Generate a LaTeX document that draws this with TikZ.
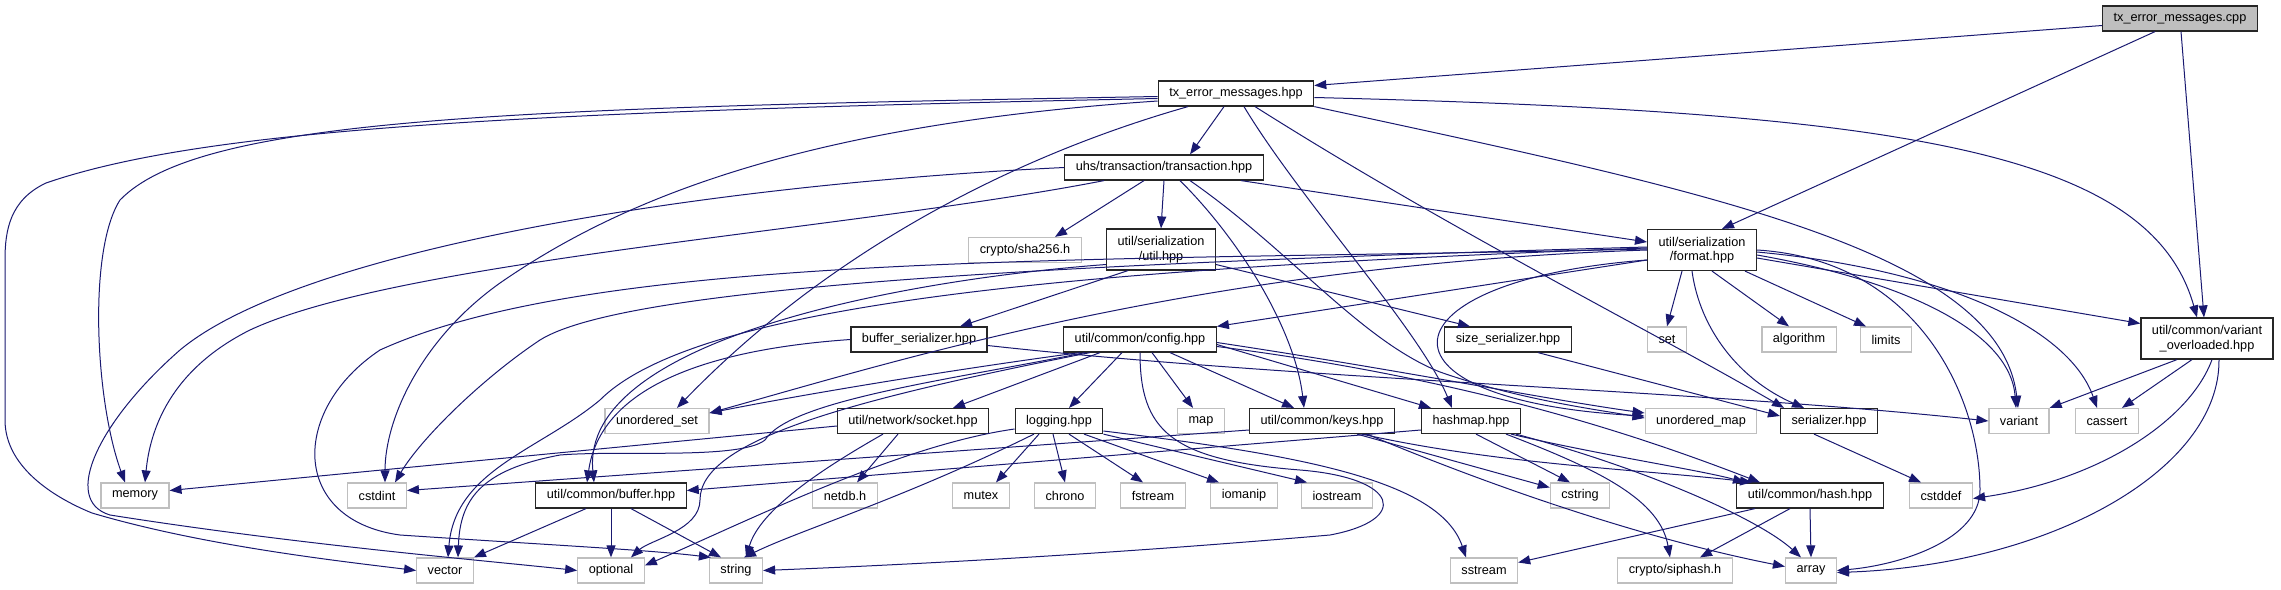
\documentclass[tikz,border=0pt]{standalone}
\usepackage{fontspec}
\usetikzlibrary{arrows.meta}
\newfontfamily\dotfont{Liberation Sans}
\definecolor{depblue}{HTML}{191970}
\definecolor{extgrey}{HTML}{BFBFBF}
\tikzset{
  file/.style={draw=black!85, line width=1.2pt, fill=white, text=black,
    font=\dotfont\fontsize{12.7}{14.5}\selectfont, inner xsep=11pt, inner ysep=2pt,
    minimum height=25pt, align=center},
  file2/.style={file, minimum height=41pt},
  ext/.style={file, draw=extgrey},
  root/.style={file, fill=extgrey},
  dep/.style={draw=depblue, line width=1pt, -{Triangle[length=12pt,width=9pt]}}
}
\begin{document}
\begin{tikzpicture}[x=1pt,y=-1pt]
\useasboundingbox (0,0) rectangle (2281,589);

% top rows
\node[root] (cpp) at (2180,18.5) {tx\_error\_messages.cpp};
\node[file] (txh) at (1236,93.5) {tx\_error\_messages.hpp};
\node[file] (trx) at (1164,167.5) {uhs/transaction/transaction.hpp};
\node[ext] (sha) at (1025,250) {crypto/sha256.h};
\node[file2] (sutil) at (1161,249.5) {util/serialization\\/util.hpp};
\node[file2] (fmt) at (1702,250) {util/serialization\\/format.hpp};

% middle rows
\node[file] (bufser) at (919,339.5) {buffer\_serializer.hpp};
\node[file] (config) at (1140,339.5) {util/common/config.hpp};
\node[file] (sizeser) at (1508,339.5) {size\_serializer.hpp};
\node[ext] (set) at (1667,339.5) {set};
\node[ext] (algorithm) at (1799,339.5) {algorithm};
\node[ext] (limits) at (1886,339.5) {limits};
\node[file2] (varov) at (2207,338.5) {util/common/variant\\\_overloaded.hpp};

\node[ext] (uset) at (657,421) {unordered\_set};
\node[file] (socket) at (913,421) {util/network/socket.hpp};
\node[file] (logging) at (1059,421) {logging.hpp};
\node[ext] (map) at (1201,421) {map};
\node[file] (keys) at (1322,421) {util/common/keys.hpp};
\node[file] (hashmap) at (1471,421) {hashmap.hpp};
\node[ext] (umap) at (1701,421) {unordered\_map};
\node[file] (serializer) at (1829,421) {serializer.hpp};
\node[ext] (variant) at (2019,421) {variant};
\node[ext] (cassert) at (2107,421) {cassert};

% bottom rows
\node[ext] (memory) at (135,495.5) {memory};
\node[ext] (cstdint) at (377,495.5) {cstdint};
\node[file] (buffer) at (611,495.5) {util/common/buffer.hpp};
\node[ext] (netdb) at (845,495.5) {netdb.h};
\node[ext] (mutex) at (981,495.5) {mutex};
\node[ext] (chrono) at (1065,495.5) {chrono};
\node[ext] (fstream) at (1153,495.5) {fstream};
\node[ext] (iomanip) at (1244,495.5) {iomanip};
\node[ext] (iostream) at (1337,495.5) {iostream};
\node[ext] (cstring) at (1580,495.5) {cstring};
\node[file] (hash) at (1810,495.5) {util/common/hash.hpp};
\node[ext] (cstddef) at (1941,495.5) {cstddef};

\node[ext] (vector) at (445,570.5) {vector};
\node[ext] (optional) at (611,570.5) {optional};
\node[ext] (string) at (736,570.5) {string};
\node[ext] (sstream) at (1484,570.5) {sstream};
\node[ext] (siphash) at (1675,570.5) {crypto/siphash.h};
\node[ext] (array) at (1811,570.5) {array};

% tx_error_messages.cpp
\draw[dep] ([yshift=-7pt]cpp.west) -- ([yshift=8pt]txh.east);
\draw[dep] ([xshift=-25pt]cpp.south) -- ([xshift=20pt]fmt.north);
\draw[dep] ([xshift=1pt]cpp.south) -- ([xshift=-3pt]varov.north);

% tx_error_messages.hpp
\draw[dep] ([xshift=-12pt]txh.south) -- ([xshift=26pt]trx.north);
\draw[dep] ([yshift=-3pt]txh.west) .. controls (500,108) and (200,118) .. (120,200)
  .. controls (88,250) and (95,400) .. ([xshift=-10pt]memory.north);
\draw[dep] ([yshift=-5pt]txh.west) .. controls (500,112) and (200,130) .. (46,183)
  .. controls (10,200) and (5,230) .. (5,260) -- (5,420)
  .. controls (5,470) and (60,500) .. (92,513)
  .. controls (200,545) and (330,560) .. (vector.west);
\draw[dep] ([yshift=-7.5pt]txh.west) .. controls (800,125) and (620,200) .. (500,283)
  .. controls (420,340) and (385,420) .. ([xshift=8pt]cstdint.north);
\draw[dep] ([xshift=-48pt]txh.south) .. controls (1000,160) and (820,260) .. ([xshift=20pt]uset.north);
\draw[dep] ([xshift=8pt]txh.south) .. controls (1300,200) and (1420,330) .. ([xshift=-19pt]hashmap.north);
\draw[dep] ([xshift=19pt]txh.south) .. controls (1450,230) and (1650,330) .. ([xshift=-45pt]serializer.north);
\draw[dep] ([yshift=-4pt]txh.east) .. controls (1900,112) and (2150,150) .. ([xshift=-10pt]varov.north);
\draw[dep] (txh.south east) .. controls (1700,190) and (2000,250) .. ([xshift=-1pt]variant.north);

% transaction.hpp
\draw[dep] ([xshift=-20pt]trx.south) -- ([xshift=30pt]sha.north);
\draw[dep] (trx.south) -- (sutil.north);
\draw[dep] ([xshift=77pt]trx.south) -- ([yshift=8pt]fmt.west);
\draw[dep] ([xshift=16pt]trx.south) .. controls (1240,240) and (1295,330) .. ([xshift=-18pt]keys.north);
\draw[dep] ([xshift=26pt]trx.south) .. controls (1290,250) and (1360,340) .. (1440,372)
  .. controls (1520,400) and (1600,410) .. ([yshift=3pt]umap.west);
\draw[dep] ([xshift=-60pt]trx.south) .. controls (850,230) and (400,260) .. (250,330)
  .. controls (170,370) and (150,430) .. ([xshift=10pt]memory.north);
\draw[dep] (trx.west) .. controls (700,185) and (300,250) .. (180,350)
  .. controls (100,420) and (60,500) .. (110,515)
  .. controls (300,545) and (480,560) .. (optional.west);

% serialization/util.hpp
\draw[dep] ([xshift=-33pt]sutil.south) -- ([xshift=41pt]bufser.north);
\draw[dep] ([yshift=-15pt]sutil.east) -- ([xshift=-38pt]sizeser.north);
\draw[dep] ([yshift=-15pt]sutil.west) .. controls (900,280) and (580,340) .. ([xshift=-17pt]buffer.north);
\draw[dep] (bufser.west) .. controls (700,350) and (600,390) .. ([xshift=-24pt]buffer.north);
\draw[dep] ([yshift=-6pt]bufser.east) .. controls (1300,380) and (1700,390) .. (variant.west);
\draw[dep] ([xshift=30pt]sizeser.south) -- ([yshift=5pt]serializer.west);

% serialization/format.hpp
\draw[dep] ([yshift=-10pt]fmt.west) -- (config.north east);
\draw[dep] ([xshift=-20pt]fmt.south) -- (set.north);
\draw[dep] ([xshift=-10pt]fmt.south) .. controls (1700,330) and (1740,380) .. ([xshift=-25pt]serializer.north);
\draw[dep] ([xshift=10pt]fmt.south) -- ([xshift=-10pt]algorithm.north);
\draw[dep] ([xshift=43pt]fmt.south) -- ([xshift=-20pt]limits.north);
\draw[dep] ([yshift=-10pt]fmt.west) .. controls (1380,280) and (1360,400) .. ([yshift=5pt]umap.west);
\draw[dep] ([yshift=-8pt]fmt.east) -- ([yshift=15pt]varov.west);
\draw[dep] ([yshift=-5pt]fmt.east) .. controls (1900,280) and (2010,330) .. ([xshift=-3pt]variant.north);
\draw[dep] ([yshift=-2pt]fmt.east) .. controls (1950,270) and (2070,330) .. ([xshift=-10pt]cassert.north);
\draw[dep] (fmt.east) .. controls (1920,260) and (1980,400) .. (1980,490)
  .. controls (1980,540) and (1900,565) .. (array.east);
\draw[dep] ([yshift=3pt]fmt.west) .. controls (1000,265) and (620,290) .. (540,340)
  .. controls (480,380) and (420,440) .. ([xshift=18pt]cstdint.north);
\draw[dep] ([yshift=2pt]fmt.west) .. controls (1100,268) and (700,300) .. (600,400)
  .. controls (540,450) and (455,470) .. ([xshift=3pt]vector.north);
\draw[dep] ([yshift=1pt]fmt.west) .. controls (1100,262) and (600,250) .. (380,350)
  .. controls (290,410) and (290,520) .. (400,535)
  .. controls (550,545) and (650,550) .. ([xshift=2pt]string.north west);
\draw[dep] (fmt.west) .. controls (1200,265) and (900,360) .. ([yshift=8pt]uset.east);

% common/config.hpp
\draw[dep] ([xshift=-60pt]config.south) .. controls (950,370) and (800,395) .. ([yshift=8pt]uset.east);
\draw[dep] ([xshift=-55pt]config.south) .. controls (950,380) and (790,400) .. (765,440)
  .. controls (740,460) and (620,450) .. (560,455)
  .. controls (480,470) and (460,500) .. ([xshift=13pt]vector.north);
\draw[dep] ([xshift=-50pt]config.south) .. controls (850,400) and (700,440) .. (700,500)
  .. controls (700,530) and (650,540) .. ([xshift=20pt]optional.north);
\draw[dep] ([xshift=-40pt]config.south) -- ([xshift=40pt]socket.north);
\draw[dep] ([xshift=-18pt]config.south) -- ([xshift=10pt]logging.north);
\draw[dep] (config.south) .. controls (1140,430) and (1170,460) .. (1300,470)
  .. controls (1400,478) and (1410,520) .. (1330,535)
  .. controls (1100,555) and (900,565) .. (string.east);
\draw[dep] ([xshift=12pt]config.south) -- ([xshift=-8pt]map.north);
\draw[dep] ([xshift=30pt]config.south) -- ([xshift=-28pt]keys.north);
\draw[dep] ([yshift=-5pt]config.east) -- ([xshift=10pt]hashmap.north west);
\draw[dep] ([yshift=-3pt]config.east) .. controls (1400,370) and (1550,400) .. ([yshift=8pt]umap.west);
\draw[dep] ([yshift=-7pt]config.east) .. controls (1480,380) and (1650,440) .. ([xshift=-50pt]hash.north);

% hashmap.hpp and keys.hpp
\draw[dep] ([xshift=5pt]hashmap.south) -- ([xshift=-10pt]cstring.north);
\draw[dep] ([xshift=40pt]hashmap.south) .. controls (1600,455) and (1700,470) .. ([xshift=-65pt]hash.north);
\draw[dep] ([xshift=35pt]hashmap.south) .. controls (1600,470) and (1660,500) .. ([xshift=-5pt]siphash.north);
\draw[dep] ([xshift=45pt]hashmap.south) .. controls (1650,470) and (1760,520) .. ([xshift=-10pt]array.north);
\draw[dep] ([yshift=-9pt]hashmap.west) -- ([yshift=5pt]buffer.east);
\draw[dep] ([xshift=35pt]keys.south) -- ([yshift=8pt]cstring.west);
\draw[dep] ([xshift=40pt]keys.south) .. controls (1500,465) and (1650,470) .. ([xshift=-58pt]hash.north);
\draw[dep] ([xshift=45pt]keys.south) .. controls (1500,490) and (1650,540) .. ([yshift=4pt]array.west);
\draw[dep] ([yshift=-9pt]keys.west) -- ([yshift=5pt]cstdint.east);

% socket.hpp and logging.hpp
\draw[dep] ([xshift=-15pt]socket.south) -- ([xshift=12pt]netdb.north);
\draw[dep] ([xshift=-30pt]socket.south) .. controls (820,470) and (760,510) .. ([xshift=10pt]string.north);
\draw[dep] ([yshift=-5pt]socket.west) -- ([yshift=5pt]memory.east);
\draw[dep] ([xshift=-20pt]logging.south) -- ([xshift=15pt]mutex.north);
\draw[dep] ([xshift=-6pt]logging.south) -- (chrono.north);
\draw[dep] ([xshift=10pt]logging.south) -- ([xshift=-10pt]fstream.north);
\draw[dep] ([xshift=25pt]logging.south) -- ([xshift=-25pt]iomanip.north);
\draw[dep] (logging.south east) -- ([xshift=-30pt]iostream.north);
\draw[dep] ([yshift=-10pt]logging.east) .. controls (1300,455) and (1440,480) .. ([xshift=-18pt]sstream.north);
\draw[dep] ([xshift=-25pt]logging.south) .. controls (900,500) and (800,530) .. ([xshift=8pt]string.north);
\draw[dep] ([yshift=-8pt]logging.west) .. controls (900,445) and (750,520) .. ([yshift=5pt]optional.east);

% hash.hpp, serializer.hpp, variant_overloaded.hpp
\draw[dep] ([xshift=-55pt]hash.south) -- ([yshift=8pt]sstream.east);
\draw[dep] ([xshift=-20pt]hash.south) -- ([xshift=25pt]siphash.north);
\draw[dep] (hash.south) -- (array.north);
\draw[dep] ([xshift=-15pt]serializer.south) -- ([xshift=-20pt]cstddef.north);
\draw[dep] ([xshift=-30pt]varov.south) -- (variant.north east);
\draw[dep] ([xshift=-15pt]varov.south) -- ([xshift=15pt]cassert.north);
\draw[dep] ([xshift=5pt]varov.south) .. controls (2190,420) and (2100,480) .. ([yshift=-3pt]cstddef.east);
\draw[dep] ([xshift=12pt]varov.south) .. controls (2220,470) and (2050,565) .. ([yshift=-2pt]array.east);

% buffer.hpp
\draw[dep] ([xshift=-25pt]buffer.south) -- (vector.north east);
\draw[dep] (buffer.south) -- (optional.north);
\draw[dep] ([xshift=20pt]buffer.south) -- ([xshift=-15pt]string.north);

\end{tikzpicture}
\end{document}
